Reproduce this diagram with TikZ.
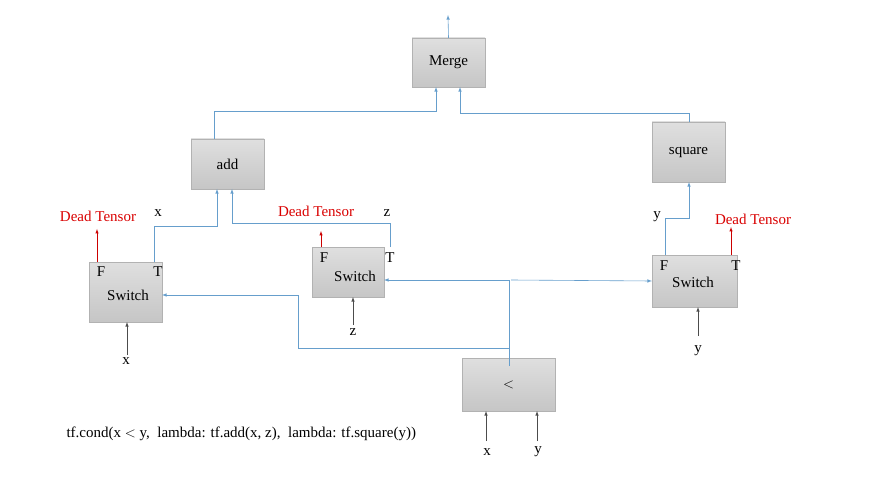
\documentclass[tikz,border=0pt]{standalone}
\usepackage{fontspec}
\setmainfont{Liberation Serif}
\begin{document}
\begin{tikzpicture}[x=1pt,y=-1pt,
  box/.style={draw=gray!60,top color=gray!25,bottom color=gray!45,minimum width=#1,inner sep=0pt},
  bl/.style={draw=blue!45!cyan!50!gray!80,line width=0.6pt,-latex},
  rd/.style={draw=red!80!black,line width=0.5pt,-latex},
  bk/.style={draw=black!70,line width=0.6pt,-latex},
  lab/.style={font=\fontsize{15}{15}\selectfont},
  dead/.style={font=\fontsize{15}{15}\selectfont,text=red!85!black}]
\useasboundingbox (0,0) rectangle (894,489);
\node[box=73pt,minimum height=49pt,lab] (merge) at (448.5,62.5) {Merge};
\node[box=73pt,minimum height=50pt,lab] (add) at (227.5,164) {add};
\node[box=73pt,minimum height=60pt,lab] (sq) at (688.5,152) {square};
\node[box=73pt,minimum height=60pt] (s1) at (125.5,292) {};
\node[box=72pt,minimum height=50pt] (s2) at (348,272) {};
\node[box=85pt,minimum height=52pt] (s3) at (694.5,281) {};
\node[box=93pt,minimum height=53pt,lab] (lt) at (508.5,384.5) {$<$};
\node[lab] at (101,272) {F}; \node[lab] at (158,272) {T}; \node[lab] (sw1) at (128,295) {Switch};
\node[lab] at (324,258) {F}; \node[lab] at (390,258) {T}; \node[lab] (sw2) at (355,276) {Switch};
\node[lab] at (664,266) {F}; \node[lab] at (736,266) {T}; \node[lab] (sw3) at (693,282) {Switch};
\coordinate (mo) at (448,15);
\draw[bl] (merge.north) -- (mo);
\draw[bl] (214,139) |- (436,111) -- (436,87);
\draw[bl] (689,122) |- (460,113) -- (460,87);
\draw[bl] (154,262) |- (217,226) -- (217,189);
\draw[bl] (390,247) |- (232,223) -- (232,189);
\draw[bl] (665,255) |- (689,218) -- (689,182);
\node[lab] at (158,213) {x};
\node[lab] at (387,213) {z};
\node[lab] at (657,217) {y};
\node[dead] (d1) at (98,216) {Dead Tensor};
\node[dead] (d2) at (316,211) {Dead Tensor};
\node[dead] (d3) at (753,219) {Dead Tensor};
\draw[rd] (97,262) -- (97,229);
\draw[rd] (321,247) -- (321,231);
\draw[rd] (731,255) -- (731,227);
\node[lab] (ix) at (126,361) {x};
\node[lab] (iz) at (353,332) {z};
\node[lab] (iy) at (698,351) {y};
\node[lab] (lx) at (487,452) {x};
\node[lab] (ly) at (538,452) {y};
\draw[bk] (127,355) -- (127,322);
\draw[bk] (353,325) -- (353,297);
\draw[bk] (698,336) -- (698,307);
\draw[bk] (486,441) -- (486,411);
\draw[bk] (537,441) -- (537,411);
\draw[blue!45!cyan!50!gray!80,line width=0.6pt] (509,366) -- (509,280);
\draw[bl] (509,348) -| (298,295) -- (162,295);
\draw[bl] (509,280) -- (384,280);
\draw[bl] (511,280) -- (652,281);
\node[lab,anchor=west] (f) at (63,434) {tf.cond(x $<$ y,\ \ lambda: tf.add(x, z),\ \ lambda: tf.square(y))};
\end{tikzpicture}
\end{document}
